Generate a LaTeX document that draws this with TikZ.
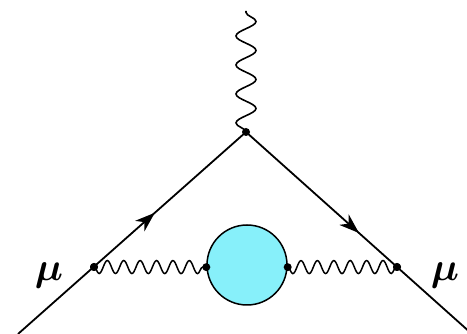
\documentclass[tikz,border=0pt]{standalone}
\usepackage{amsmath}
\usepackage{graphicx}
\usepackage{bm}
\usetikzlibrary{decorations.pathmorphing,decorations.markings,arrows.meta}

\definecolor{bubblecyan}{RGB}{135,240,250}
\newcommand{\bigmu}{\scalebox{1.6}{\Huge$\bm{\mu}$}}

\begin{document}
\begin{tikzpicture}[x=1pt,y=-1pt,
		fermion/.style={line width=1.8pt},
		arrowat/.style={postaction={decorate,decoration={markings,
			mark=at position #1 with {\arrow{Stealth[length=20pt,width=14pt,inset=6pt]}}}}},
		photon/.style={line width=1.5pt,decorate,
			decoration={snake,amplitude=6.5pt,segment length=16.4pt,mirror}},
		vphoton/.style={line width=1.6pt,decorate,
			decoration={snake,amplitude=10pt,segment length=29pt}},
		vtx/.style={circle,fill=black,inner sep=0pt,minimum size=8pt},
		mulabel/.style={anchor=base,inner sep=0pt}]
			\useasboundingbox (0,0) rectangle (467,334);
			\coordinate (in) at (18,334);
			\coordinate (out) at (472,334);
			\coordinate (top) at (246,11);
			\node[vtx] (v) at (246,132) {};
			\node[vtx] (a) at (94,267) {};
			\node[vtx] (b) at (397,267) {};
			\node[circle,draw,line width=1.5pt,fill=bubblecyan,minimum size=80pt,inner sep=0pt] (bubble) at (247,265) {};
			% muon line
			\draw[fermion,arrowat=0.6] (in) -- (v.center);
			\draw[fermion,arrowat=0.5] (v.center) -- (out);
			% photons
			\draw[vphoton] (v.center) -- (top);
			\draw[photon] (a.center) -- (bubble.183);
			\draw[photon] (bubble.357) -- (b.center);
			\node[vtx] (c) at (bubble.183) {};
			\node[vtx] (d) at (bubble.357) {};
			\node[vtx] at (a) {};
			\node[vtx] at (b) {};
			\node[mulabel] (muin) at (49,281) {\bigmu};
			\node[mulabel] (muout) at (445,281) {\bigmu};
		\end{tikzpicture}
\end{document}
